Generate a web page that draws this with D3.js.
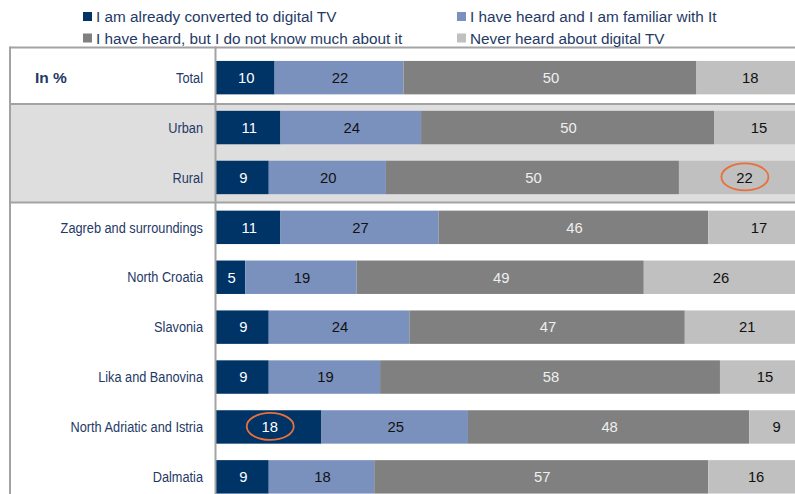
<!DOCTYPE html>
<html>
<head>
<meta charset="utf-8">
<script src="https://cdn.jsdelivr.net/npm/d3@7"></script>
<style>
  html, body { margin: 0; padding: 0; background: #fff; }
  svg { display: block; font-family: "Liberation Sans", Arial, sans-serif; }
</style>
</head>
<body>
<svg id="chart" width="795" height="494"></svg>
<script>
// Awareness of digital TV by settlement type and region (in %)
const categories = [
  "Total", "Urban", "Rural", "Zagreb and surroundings", "North Croatia",
  "Slavonia", "Lika and Banovina", "North Adriatic and Istria", "Dalmatia"
];
const seriesNames = [
  "I am already converted to digital TV",
  "I have heard and I am familiar with It",
  "I have heard, but I do not know much about it",
  "Never heard about digital TV"
];
const converted = [10, 11, 9, 11, 5, 9, 9, 18, 9];
const familiar  = [22, 24, 20, 27, 19, 24, 19, 25, 18];
const heardOnly = [50, 50, 50, 46, 49, 47, 58, 48, 57];
const neverHeard = [18, 15, 22, 17, 26, 21, 15, 9, 16];
const seriesValues = [converted, familiar, heardOnly, neverHeard];
// Groups of rows: shaded settlement block
const shadedRows = ["Urban", "Rural"];
// Values ringed for emphasis: [category, series index]
const highlights = [["Rural", 3], ["North Adriatic and Istria", 0]];

const colors = ["#003366", "#7b91bd", "#808080", "#c0c0c0"];
const labelColors = ["#ffffff", "#111111", "#efefef", "#111111"];
const textNavy = "#1f3a66";
const ruleColor = "#a3a3a3";

const W = 795, H = 494;
const svg = d3.select("#chart");

const x = d3.scaleLinear().domain([0, 100]).range([216, 802]);
const y = d3.scaleBand().domain(categories)
  .range([52.7, 52.7 + 9 * 49.9]).paddingInner(0.33).paddingOuter(0.165);
const gap = y.step() - y.bandwidth();

// stacked data
const rows = categories.map((c, i) => {
  let acc = 0;
  return seriesValues.map((vals, s) => {
    const v = vals[i];
    const seg = { cat: c, s, v, x0: acc, x1: acc + v };
    acc += v;
    return seg;
  });
});

// shaded block behind settlement rows
const shTop = y(shadedRows[0]) - gap / 2 + 1.5;
const shBot = y(shadedRows[shadedRows.length - 1]) + y.bandwidth() + gap / 2;
svg.append("rect")
  .attr("x", 10).attr("y", shTop)
  .attr("width", W - 10).attr("height", shBot - shTop)
  .attr("fill", "#dedede");

// bars
const barG = svg.append("g");
rows.forEach(r => {
  barG.selectAll(null).data(r).join("rect")
    .attr("x", d => x(d.x0))
    .attr("y", d => y(d.cat))
    .attr("width", d => x(d.x1) - x(d.x0))
    .attr("height", y.bandwidth())
    .attr("fill", d => colors[d.s]);
  barG.selectAll(null).data(r).join("text")
    .attr("x", d => (x(d.x0) + x(d.x1)) / 2 + 1)
    .attr("y", d => y(d.cat) + y.bandwidth() / 2)
    .attr("dy", "0.36em")
    .attr("text-anchor", "middle")
    .attr("font-size", 14.8)
    .attr("fill", d => labelColors[d.s])
    .text(d => d.v);
});

// emphasis rings
highlights.forEach(([cat, s]) => {
  const seg = rows[categories.indexOf(cat)][s];
  svg.append("ellipse")
    .attr("cx", (x(seg.x0) + x(seg.x1)) / 2 + 1.5)
    .attr("cy", y(cat) + y.bandwidth() / 2 - 0.5)
    .attr("rx", 23.5).attr("ry", 13.5)
    .attr("fill", "none")
    .attr("stroke", "#e8703a")
    .attr("stroke-width", 1.8);
});

// table rules
const topRule = y(categories[0]) - 13.5;
const rules = svg.append("g").attr("stroke", ruleColor).attr("stroke-width", 2);
[topRule, shTop, shBot].forEach(yy => {
  rules.append("line").attr("x1", 10).attr("x2", W).attr("y1", yy).attr("y2", yy);
});
rules.append("line").attr("x1", 10).attr("x2", 10).attr("y1", topRule - 1).attr("y2", H);
rules.append("line").attr("x1", 215.5).attr("x2", 215.5).attr("y1", topRule - 1).attr("y2", H);

// category labels (narrow-set)
svg.append("g").selectAll("text").data(categories).join("text")
  .attr("transform", d => `translate(203,${y(d) + y.bandwidth() / 2}) scale(0.88,1)`)
  .attr("dy", "0.36em")
  .attr("text-anchor", "end")
  .attr("font-size", 14.5)
  .attr("fill", textNavy)
  .text(d => d);

svg.append("text")
  .attr("x", 35).attr("y", y(categories[0]) + y.bandwidth() / 2)
  .attr("dy", "0.36em")
  .attr("font-size", 15.5).attr("font-weight", "bold")
  .attr("fill", textNavy)
  .text("In %");

// legend
const legendPos = [[83, 16.5], [457, 16.5], [83, 38], [457, 38]];
const lg = svg.append("g");
seriesNames.forEach((name, s) => {
  const [lx, ly] = legendPos[s];
  lg.append("rect").attr("x", lx).attr("y", ly - 4.5).attr("width", 9).attr("height", 9)
    .attr("fill", colors[s]);
  lg.append("text").attr("x", lx + 13).attr("y", ly).attr("dy", "0.36em")
    .attr("font-size", 15.3).attr("fill", textNavy)
    .text(name);
});
</script>
</body>
</html>
